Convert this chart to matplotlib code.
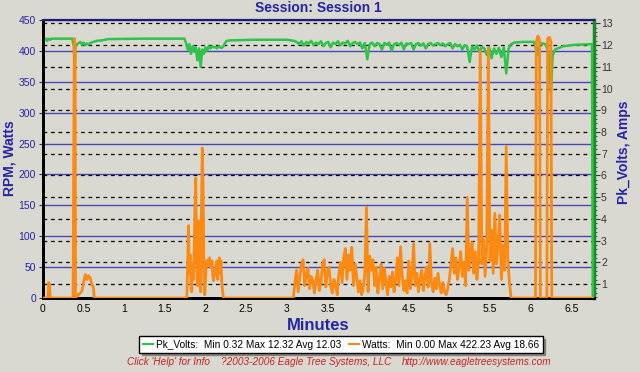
import matplotlib
matplotlib.use("Agg")
import matplotlib.pyplot as plt
import numpy as np
from matplotlib.lines import Line2D

plt.rcParams["font.family"] = ["Liberation Sans", "DejaVu Sans"]

BLUE_TEXT = "#2424a8"
GRID_BLUE = "#4646b4"
VOLT_COLOR = "#2ec44a"
WATT_COLOR = "#fb8a12"
FIG_BG = "#d9d9d1"
PLOT_BG = "#eaeae6"

# ---- Watts (left axis) ----
# sparse part at the start, (minutes, watts)
watts_start_t = [0.00, 0.06, 0.07, 0.08, 0.09, 0.37, 0.38, 0.385, 0.395, 0.40,
                 0.43, 0.46, 0.48, 0.50, 0.52, 0.54, 0.56, 0.58, 0.60, 0.62, 0.63, 1.76]
watts_start = [0, 0, 25, 22, 0, 0, 300, 420, 410, 0,
               5, 8, 12, 25, 38, 30, 36, 33, 22, 18, 0, 0]

# first burst, sampled evenly from 1.77 to 2.22 min
watts_burst1 = [0, 60, 117, 40, 70, 20, 10, 55, 30, 80, 150, 194, 60, 20, 100, 125,
                60, 10, 150, 243, 180, 40, 5, 30, 60, 52, 62, 55, 65, 50, 55, 60,
                35, 28, 45, 38, 55, 60, 30, 52, 65, 40, 60, 25, 10, 0]

# main flight, sampled evenly from 3.08 to 5.76 min
watts_burst2 = [0, 25, 45, 10, 35, 55, 62, 20, 40, 48, 15, 35, 28, 8, 30, 45, 12, 25,
                55, 62, 18, 42, 50, 20, 8, 30, 22, 5, 40, 58, 25, 65, 80, 30, 70, 45,
                82, 20, 55, 35, 10, 28, 5, 15, 40, 147, 10, 68, 45, 62, 20, 50, 8, 30,
                55, 15, 48, 25, 5, 35, 18, 42, 10, 30, 65, 20, 83, 35, 12, 28, 8, 60,
                15, 35, 88, 20, 40, 10, 30, 45, 12, 35, 50, 18, 88, 25, 10, 32, 15, 40,
                20, 8, 25, 10, 5, 15, 30, 55, 80, 40, 65, 30, 50, 75, 35, 58, 20, 163,
                45, 70, 90, 40, 75, 30, 60, 400, 55, 95, 35, 80, 405, 60, 110, 40, 137,
                55, 90, 134, 30, 85, 45, 245, 60, 25, 0]

watts_end_t = [5.90, 6.06, 6.07, 6.09, 6.11, 6.12, 6.20, 6.21, 6.23, 6.25, 6.26, 6.77]
watts_end = [0, 0, 415, 424, 418, 0, 0, 420, 422, 415, 0, 0]

# ---- Pk_Volts (right axis) ----
volts_start_t = [0.00, 0.03, 0.05, 0.06, 0.09, 0.10, 0.36, 0.37, 0.38, 0.39, 0.40,
                 0.42, 0.44, 0.46, 0.48, 0.50, 0.52, 0.54, 0.56, 0.58, 0.62, 0.66,
                 0.72, 0.80, 1.20, 1.74]
volts_start = [12.30, 12.30, 12.20, 12.30, 12.25, 12.30, 12.30, 12.10, 11.95, 10.90,
               11.90, 12.05, 12.10, 12.15, 12.02, 12.12, 12.00, 12.08, 12.03, 12.10,
               12.15, 12.20, 12.22, 12.28, 12.30, 12.30]

# 1.76 to 2.26 min
volts_burst1 = [12.10, 11.80, 12.05, 11.60, 11.95, 11.70, 11.90, 11.30, 11.85, 11.00,
                11.80, 11.60, 11.90, 11.75, 11.95, 11.85, 11.95, 11.90, 11.92, 11.85,
                11.95, 11.90, 11.88, 11.95, 12.10, 12.20]

volts_mid_t = [2.30, 2.60, 3.00, 3.09]
volts_mid = [12.22, 12.25, 12.25, 12.20]

# 3.12 to 5.76 min
volts_burst2 = [12.15, 12.05, 12.18, 11.98, 12.15, 12.08, 12.20, 12.00, 12.12, 12.05,
                12.18, 11.95, 12.10, 12.15, 11.90, 12.12, 12.05, 12.18, 12.00, 12.12,
                12.08, 12.20, 11.95, 12.10, 12.15, 12.05, 12.12, 11.85, 12.10, 11.35,
                12.05, 12.12, 11.95, 12.10, 12.05, 11.80, 12.10, 12.02, 12.12, 11.75,
                12.05, 12.10, 12.00, 12.12, 11.80, 12.08, 12.05, 12.10, 11.80, 12.05,
                12.10, 11.98, 12.08, 11.85, 12.05, 12.10, 11.98, 12.05, 12.10, 12.00,
                12.08, 11.95, 12.05, 12.10, 11.85, 12.05, 11.95, 12.02, 11.80, 12.00,
                11.92, 11.22, 11.95, 11.80, 11.98, 11.70, 11.92, 11.85, 11.55, 11.90,
                11.40, 11.85, 11.60, 11.88, 11.45, 11.90, 10.70, 11.85, 12.05]

volts_end_t = [5.80, 5.90, 6.04, 6.06, 6.08, 6.10, 6.12, 6.18, 6.21, 6.23, 6.25,
               6.27, 6.30, 6.40, 6.55, 6.755, 6.765]
volts_end = [12.12, 12.15, 12.15, 11.90, 11.55, 11.95, 12.10, 12.05, 11.80, 11.50,
             9.80, 11.50, 11.80, 11.95, 12.02, 12.05, 0.32]

watts_t = np.concatenate([watts_start_t,
                          np.linspace(1.77, 2.22, len(watts_burst1)),
                          np.linspace(3.08, 5.76, len(watts_burst2)),
                          watts_end_t])
watts = np.concatenate([watts_start, watts_burst1, watts_burst2, watts_end])

volts_t = np.concatenate([volts_start_t,
                          np.linspace(1.76, 2.26, len(volts_burst1)),
                          volts_mid_t,
                          np.linspace(3.12, 5.76, len(volts_burst2)),
                          volts_end_t])
volts = np.concatenate([volts_start, volts_burst1, volts_mid, volts_burst2, volts_end])

fig = plt.figure(figsize=(6.4, 3.72), dpi=100, facecolor=FIG_BG)
ax = fig.add_axes([43 / 640, 74 / 372, 551 / 640, 278 / 372])
ax2 = ax.twinx()
ax.set_zorder(2)
ax2.set_zorder(1)
ax.patch.set_visible(False)
ax2.patch.set_facecolor(PLOT_BG)

ax.set_xlim(0, 6.78)
ax.set_ylim(0, 450)
ax2.set_ylim(0.355, 13.16)

ax.set_xticks(np.arange(0, 6.6, 0.5))
ax.set_xticklabels([f"{v:g}" for v in np.arange(0, 6.6, 0.5)])
ax.set_yticks(np.arange(0, 451, 50))
ax2.set_yticks(np.arange(1, 14, 1))
ax2.set_yticks(np.arange(0.4, 13.1, 0.2), minor=True)

ax.tick_params(axis="y", colors="#333333", labelcolor=BLUE_TEXT, labelsize=7.5, length=3, pad=2)
ax.tick_params(axis="x", labelsize=7.5, length=0, pad=4)
ax2.tick_params(axis="y", which="major", labelsize=7.5, length=4, pad=1, colors="#333333")
ax2.tick_params(axis="y", which="minor", length=2, colors="#333333")

# grid: blue solid on watts ticks, black dashed on volts ticks, gray dashed vertical
for y in np.arange(50, 451, 50):
    ax2.axhline(ax2.transData.inverted().transform(ax.transData.transform((0, y)))[1],
                color=GRID_BLUE, lw=1.0, zorder=0.5)
ax2.grid(axis="y", which="major", color="black", ls=(0, (3, 3)), lw=0.9, zorder=0.6)
ax2.grid(axis="x", color="#8a8a8a", ls=(0, (3, 3)), lw=0.8, zorder=0.6)
ax2.set_axisbelow(True)

ax2.plot(volts_t, volts, color=VOLT_COLOR, lw=1.8, zorder=3)
ax.plot(watts_t, watts, color=WATT_COLOR, lw=2.0, zorder=3)

for a in (ax, ax2):
    a.spines["left"].set_color("black")
    a.spines["left"].set_linewidth(2)
    a.spines["bottom"].set_color("black")
    a.spines["bottom"].set_linewidth(2)
    a.spines["top"].set_color("#1c1c78")
    a.spines["top"].set_linewidth(1.5)
ax.spines["right"].set_visible(False)
ax2.spines["right"].set_color("#1a8a2a")
ax2.spines["right"].set_linewidth(2.5)

fig.text(0.497, 0.978, "Session: Session 1", ha="center", va="center",
         fontsize=10, fontweight="bold", color=BLUE_TEXT)
fig.text(318 / 640, 1 - 326 / 372, "Minutes", ha="center", va="center",
         fontsize=12, fontweight="bold", color=BLUE_TEXT)
fig.text(10 / 640, 1 - 158 / 372, "RPM, Watts", ha="center", va="center", rotation=90,
         fontsize=10, fontweight="bold", color=BLUE_TEXT)
fig.text(624 / 640, 1 - 152 / 372, "Pk_Volts, Amps", ha="center", va="center", rotation=90,
         fontsize=10, fontweight="bold", color=BLUE_TEXT)

handles = [Line2D([], [], color=VOLT_COLOR, lw=1.5),
           Line2D([], [], color=WATT_COLOR, lw=1.5)]
labels = ["Pk_Volts:  Min 0.32 Max 12.32 Avg 12.03",
          "Watts:  Min 0.00 Max 422.23 Avg 18.66"]
leg = fig.legend(handles, labels, loc="center", bbox_to_anchor=(341 / 640, 1 - 344.5 / 372),
                 ncol=2, fontsize=7.3, handlelength=1.0, handletextpad=0.3, columnspacing=0.8,
                 borderpad=0.3, fancybox=False, shadow=True, framealpha=1,
                 edgecolor="black", facecolor="white")
leg.get_frame().set_linewidth(1.0)

foot = dict(fontsize=7.2, style="italic", color="#cc2020", va="center", ha="left")
fig.text(127 / 640, 1 - 362 / 372, "Click 'Help' for Info", **foot)
fig.text(221 / 640, 1 - 362 / 372, "?2003-2006 Eagle Tree Systems, LLC", **foot)
fig.text(402 / 640, 1 - 362 / 372, "http://www.eagletreesystems.com", **foot)

fig.savefig("out.png", dpi=100, facecolor=FIG_BG)
